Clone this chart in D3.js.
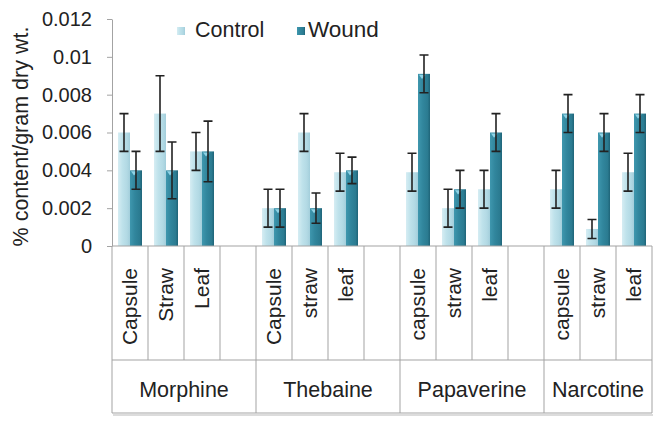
<!DOCTYPE html>
<html>
<head>
<meta charset="utf-8">
<script src="https://cdn.jsdelivr.net/npm/d3@7"></script>
<style>
  body { margin: 0; background: #fff; }
  svg { font-family: "Liberation Sans", Arial, sans-serif; }
</style>
</head>
<body>
<svg id="chart" width="662" height="424"></svg>
<script>
// values
const compounds = ['Morphine', 'Thebaine', 'Papaverine', 'Narcotine'];
const tissues = [
  ['Capsule', 'Straw', 'Leaf'],
  ['Capsule', 'straw', 'leaf'],
  ['capsule', 'straw', 'leaf'],
  ['capsule', 'straw', 'leaf']
];
const control = [0.006, 0.007, 0.005, 0.002, 0.006, 0.0039, 0.0039, 0.002, 0.003, 0.003, 0.0009, 0.0039];
const controlErr = [0.001, 0.002, 0.001, 0.001, 0.001, 0.001, 0.001, 0.001, 0.001, 0.001, 0.0005, 0.001];
const wound = [0.004, 0.004, 0.005, 0.002, 0.002, 0.004, 0.0091, 0.003, 0.006, 0.007, 0.006, 0.007];
const woundErr = [0.001, 0.0015, 0.0016, 0.001, 0.0008, 0.0007, 0.001, 0.001, 0.001, 0.001, 0.001, 0.001];
const yTicks = [0, 0.002, 0.004, 0.006, 0.008, 0.01, 0.012];
const seriesNames = ['Control', 'Wound'];

const svg = d3.select('#chart');
const plotLeft = 112, plotRight = 652, plotTop = 19, base = 246;
const rowMid = 360, rowBottom = 413;
const gridColor = '#a3a3a3';
const textColor = '#222';

// slot keys: one per tissue, plus a blank slot between compounds
const slots = [];
const bars = [];
compounds.forEach((c, ci) => {
  tissues[ci].forEach((t, ti) => {
    const key = c + '|' + t;
    slots.push(key);
    const i = bars.length;
    bars.push({key, compound: c, tissue: t, control: control[i], controlErr: controlErr[i], wound: wound[i], woundErr: woundErr[i]});
  });
  if (ci < compounds.length - 1) slots.push(c + '|blank');
});

const x = d3.scaleBand().domain(slots).range([plotLeft, plotRight]).padding(0);
const y = d3.scaleLinear().domain([0, 0.012]).range([base, plotTop]);
const bw = x.bandwidth() / 3;

// gradients for the bevelled bar look
const defs = svg.append('defs');
function grad(id, stops) {
  const g = defs.append('linearGradient').attr('id', id)
      .attr('x1', 0).attr('x2', 1).attr('y1', 0).attr('y2', 0);
  stops.forEach(s => g.append('stop').attr('offset', s[0]).attr('stop-color', s[1]));
}
grad('gControl', [[0, '#d6edf3'], [0.35, '#bfe2eb'], [0.75, '#b2d9e4'], [1, '#a3cedb']]);
grad('gWound', [[0, '#3f97ae'], [0.4, '#31869d'], [0.8, '#2b7b91'], [1, '#1f6478']]);

// y axis
const yAxis = svg.append('g')
    .attr('transform', `translate(${plotLeft},0)`)
    .call(d3.axisLeft(y)
        .tickValues(yTicks)
        .tickSize(5)
        .tickSizeOuter(0)
        .tickPadding(15)
        .tickFormat(d => d === 0 ? '0' : String(+d.toFixed(3))));
yAxis.select('.domain').attr('stroke', gridColor);
yAxis.selectAll('.tick line').attr('stroke', gridColor);
yAxis.selectAll('.tick text')
    .attr('font-size', 20)
    .attr('fill', textColor);

svg.append('text')
    .attr('transform', `translate(28,${(plotTop + base) / 2 + 4}) rotate(-90)`)
    .attr('text-anchor', 'middle')
    .attr('font-size', 21.5)
    .attr('fill', textColor)
    .text('% content/gram dry wt.');

// bars
const barG = svg.append('g');
barG.selectAll('rect.control')
    .data(bars)
    .join('rect')
    .attr('class', 'control')
    .attr('x', d => x(d.key) + bw / 2)
    .attr('y', d => y(d.control))
    .attr('width', bw)
    .attr('height', d => base - y(d.control))
    .attr('fill', 'url(#gControl)');

barG.selectAll('rect.wound')
    .data(bars)
    .join('rect')
    .attr('class', 'wound')
    .attr('x', d => x(d.key) + bw * 1.5)
    .attr('y', d => y(d.wound))
    .attr('width', bw)
    .attr('height', d => base - y(d.wound))
    .attr('fill', 'url(#gWound)');

// small highlight at the top of the wound bars
barG.selectAll('path.shine')
    .data(bars)
    .join('path')
    .attr('class', 'shine')
    .attr('d', d => {
      const x0 = x(d.key) + bw * 1.5 + 1, y0 = y(d.wound) + 1;
      return `M${x0},${y0}h${bw * 0.55}l${-bw * 0.3},${bw * 0.35}z`;
    })
    .attr('fill', '#8fd3e6');

// error bars
const errors = [];
bars.forEach(d => {
  errors.push({cx: x(d.key) + bw, v: d.control, e: d.controlErr});
  errors.push({cx: x(d.key) + bw * 2, v: d.wound, e: d.woundErr});
});
const errG = svg.append('g').attr('stroke', '#222').attr('stroke-width', 1.6).attr('fill', 'none');
errG.selectAll('path')
    .data(errors)
    .join('path')
    .attr('d', d => {
      const y1 = y(d.v + d.e), y2 = y(Math.max(0, d.v - d.e)), c = 4.5;
      return `M${d.cx},${y1}V${y2}M${d.cx - c},${y1}H${d.cx + c}M${d.cx - c},${y2}H${d.cx + c}`;
    });

// category table below the axis
const table = svg.append('g').attr('stroke', gridColor).attr('stroke-width', 1);
table.append('line').attr('x1', plotLeft).attr('x2', plotRight).attr('y1', base).attr('y2', base);
table.append('line').attr('x1', plotLeft).attr('x2', plotRight).attr('y1', rowMid).attr('y2', rowMid);
table.append('line').attr('x1', plotLeft).attr('x2', plotRight).attr('y1', rowBottom).attr('y2', rowBottom);
table.append('line').attr('x1', plotLeft + 1).attr('x2', plotRight + 1).attr('y1', rowBottom + 2).attr('y2', rowBottom + 2)
    .attr('stroke', '#dcdcdc').attr('stroke-width', 2);

const slotEdges = slots.map(s => x(s)).concat([plotRight]);
table.selectAll('line.slot')
    .data(slotEdges)
    .join('line')
    .attr('class', 'slot')
    .attr('x1', d => d).attr('x2', d => d)
    .attr('y1', base).attr('y2', rowMid);

const groups = compounds.map((c, ci) => {
  const keys = slots.filter(s => s.startsWith(c + '|'));
  const x0 = x(keys[0]);
  const x1 = x(keys[keys.length - 1]) + x.bandwidth();
  return {name: c, x0, x1};
});
table.selectAll('line.group')
    .data([plotLeft].concat(groups.map(g => g.x1)))
    .join('line')
    .attr('class', 'group')
    .attr('x1', d => d).attr('x2', d => d)
    .attr('y1', rowMid).attr('y2', rowBottom);

svg.append('g').selectAll('text')
    .data(bars)
    .join('text')
    .attr('transform', d => `translate(${x(d.key) + x.bandwidth() / 2 + 7},268) rotate(-90)`)
    .attr('text-anchor', 'end')
    .attr('font-size', 21)
    .attr('fill', textColor)
    .text(d => d.tissue);

svg.append('g').selectAll('text')
    .data(groups)
    .join('text')
    .attr('x', d => (d.x0 + d.x1) / 2)
    .attr('y', 397)
    .attr('text-anchor', 'middle')
    .attr('font-size', 21.5)
    .attr('fill', textColor)
    .text(d => d.name);

// legend
const legend = svg.append('g');
const legendX = [177, 297];
const legendFill = ['url(#gControl)', 'url(#gWound)'];
seriesNames.forEach((name, i) => {
  legend.append('rect')
      .attr('x', legendX[i]).attr('y', 27)
      .attr('width', 8).attr('height', 8)
      .attr('fill', legendFill[i]);
  legend.append('text')
      .attr('x', legendX[i] + (i === 0 ? 18 : 11))
      .attr('y', 37)
      .attr('font-size', i === 0 ? 21.5 : 22.5)
      .attr('fill', textColor)
      .text(name);
});
</script>
</body>
</html>
